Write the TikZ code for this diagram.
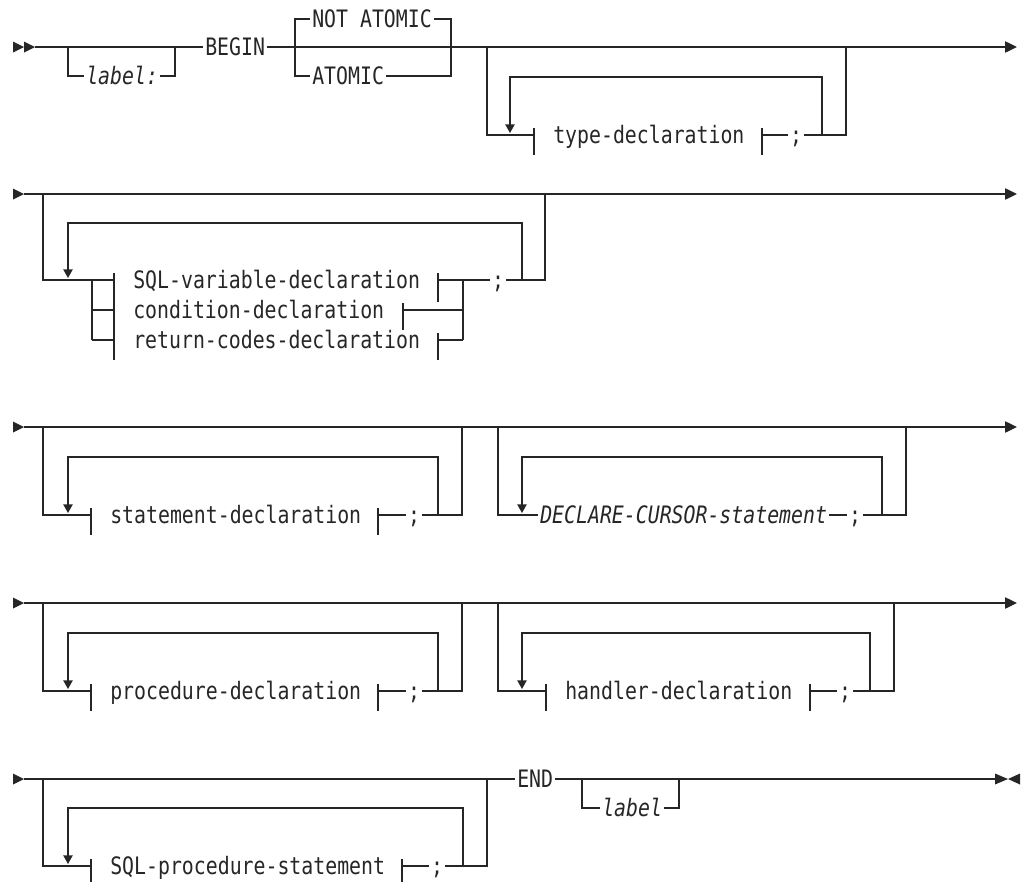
\documentclass[tikz,border=0pt]{standalone}
\usepackage{fontspec}
\newfontfamily\rrfont[FakeStretch=0.827]{DejaVu Sans Mono}
\usetikzlibrary{arrows.meta}
\definecolor{ink}{HTML}{262626}
\tikzset{
  track/.style={draw=ink, line width=1pt},
  rr/.style={font=\rrfont\fontsize{18pt}{21pt}\selectfont, text=ink, inner xsep=1.5pt,
    inner ysep=0pt, text height=13.1pt, text depth=0pt, anchor=west},
  rrvar/.style={rr, font=\rrfont\fontsize{18pt}{21pt}\selectfont\itshape},
  semi/.style={rr, anchor=center},
  into/.style={-{Triangle[width=7pt,length=6.5pt]}},
  onward/.style={-{Triangle[width=8.5pt,length=9pt]}}
}
\begin{document}
\begin{tikzpicture}[x=0.75pt, y=-0.75pt]
  \useasboundingbox (0,0) rectangle (1022,882);

  % row starts and fragment bars
  \fill[ink] (13,41.5) -- (24,47) -- (13,52.5) -- cycle;
  \fill[ink] (24,41.5) -- (35,47) -- (24,52.5) -- cycle;
  \foreach \y in {194,427,603,779}
    \fill[ink] (13,{\y-5.5}) -- (24,\y) -- (13,{\y+5.5}) -- cycle;
  \foreach \x/\y in {534/135, 762/135, 91/515, 378/515, 91/691, 378/691,
                     546/691, 810/691, 91/866, 402/866}
    \draw[track] (\x,{\y-7}) -- (\x,{\y+20});

  % row 1: label, BEGIN, atomic choice, type declarations
  \node[rr] (kbegin) at (203,47) {BEGIN};
  \node[rrvar] (lblA) at (84,76) {label:};
  \node[rr] (knotat) at (310,19) {NOT ATOMIC};
  \node[rr] (katomic) at (310,76) {ATOMIC};
  \node[rr] (typedecl) at (551,135) {type-declaration};
  \node[semi] (semiA) at (796,135) {;};
  \draw[track] (35,47) -- (kbegin.west);
  \draw[track, onward] (kbegin.east) -- (1017,47);
  \draw[track] (68,47) |- (lblA.west);
  \draw[track] (lblA.east) -| (175,47);
  \draw[track] (295,47) |- (knotat.west);
  \draw[track] (knotat.east) -| (451,47);
  \draw[track] (295,47) |- (katomic.west);
  \draw[track] (katomic.east) -| (451,47);
  \draw[track] (487,47) |- (534,135);
  \draw[track] (762,135) -- (semiA.west);
  \draw[track] (semiA.east) -| (846,47);
  \draw[track, into] (822,135) -- (822,77) -- (510,77) -- (510,133);

  % row 2: variable, condition, return codes
  \draw[track, onward] (24,194) -- (1017,194);
  \node[rr] (sqlvar) at (131,280) {SQL-variable-declaration};
  \node[rr] (conddecl) at (131,310) {condition-declaration};
  \node[rr] (retdecl) at (131,340) {return-codes-declaration};
  \node[semi] (semiB) at (498,280) {;};
  \draw[track] (43,194) |- (92,280) -- (92,340);
  \foreach \y in {280,310,340}
    \draw[track] (92,\y) -- (114,\y);
  \draw[track] (114,273) -- (114,360);
  \draw[track] (438,273) -- (438,302);
  \draw[track] (403,303) -- (403,330);
  \draw[track] (438,333) -- (438,360);
  \draw[track] (438,280) -- (463,280);
  \draw[track] (403,310) -- (463,310);
  \draw[track] (438,340) -- (463,340);
  \draw[track] (463,340) -- (463,280) -- (semiB.west);
  \draw[track] (semiB.east) -| (545,194);
  \draw[track, into] (522,280) -- (522,223) -- (68,223) -- (68,278);

  % row 3: statements and cursors
  \draw[track, onward] (24,427) -- (1017,427);
  \node[rr] (stmtdecl) at (108,515) {statement-declaration};
  \node[semi] (semiC) at (414,515) {;};
  \draw[track] (43,427) |- (91,515);
  \draw[track] (378,515) -- (semiC.west);
  \draw[track] (semiC.east) -| (462,427);
  \draw[track, into] (438,515) -- (438,457) -- (68,457) -- (68,513);
  \node[rrvar] (cursor) at (538,515) {DECLARE-CURSOR-statement};
  \node[semi] (semiD) at (855,515) {;};
  \draw[track] (498,427) |- (cursor.west);
  \draw[track] (cursor.east) -- (semiD.west);
  \draw[track] (semiD.east) -| (906,427);
  \draw[track, into] (882,515) -- (882,457) -- (522,457) -- (522,513);

  % row 4: procedures and handlers
  \draw[track, onward] (24,603) -- (1017,603);
  \node[rr] (procdecl) at (108,691) {procedure-declaration};
  \node[semi] (semiE) at (414,691) {;};
  \draw[track] (43,603) |- (91,691);
  \draw[track] (378,691) -- (semiE.west);
  \draw[track] (semiE.east) -| (462,603);
  \draw[track, into] (438,691) -- (438,633) -- (68,633) -- (68,689);
  \node[rr] (handdecl) at (563,691) {handler-declaration};
  \node[semi] (semiF) at (845,691) {;};
  \draw[track] (498,603) |- (546,691);
  \draw[track] (810,691) -- (semiF.west);
  \draw[track] (semiF.east) -| (894,603);
  \draw[track, into] (870,691) -- (870,633) -- (522,633) -- (522,689);

  % row 5: statements, END, label
  \node[rr] (procstmt) at (108,866) {SQL-procedure-statement};
  \node[semi] (semiG) at (437,866) {;};
  \node[rr] (kend) at (515,779) {END};
  \node[rrvar] (lblB) at (600,808) {label};
  \draw[track] (24,779) -- (kend.west);
  \draw[track] (kend.east) -- (995,779);
  \fill[ink] (995,773.5) -- (1008,779) -- (995,784.5) -- cycle;
  \fill[ink] (1020,773.5) -- (1008,779) -- (1020,784.5) -- cycle;
  \draw[track] (582,779) |- (lblB.west);
  \draw[track] (lblB.east) -| (679,779);
  \draw[track] (43,779) |- (91,866);
  \draw[track] (402,866) -- (semiG.west);
  \draw[track] (semiG.east) -| (487,779);
  \draw[track, into] (463,866) -- (463,808) -- (68,808) -- (68,864);
\end{tikzpicture}
\end{document}
